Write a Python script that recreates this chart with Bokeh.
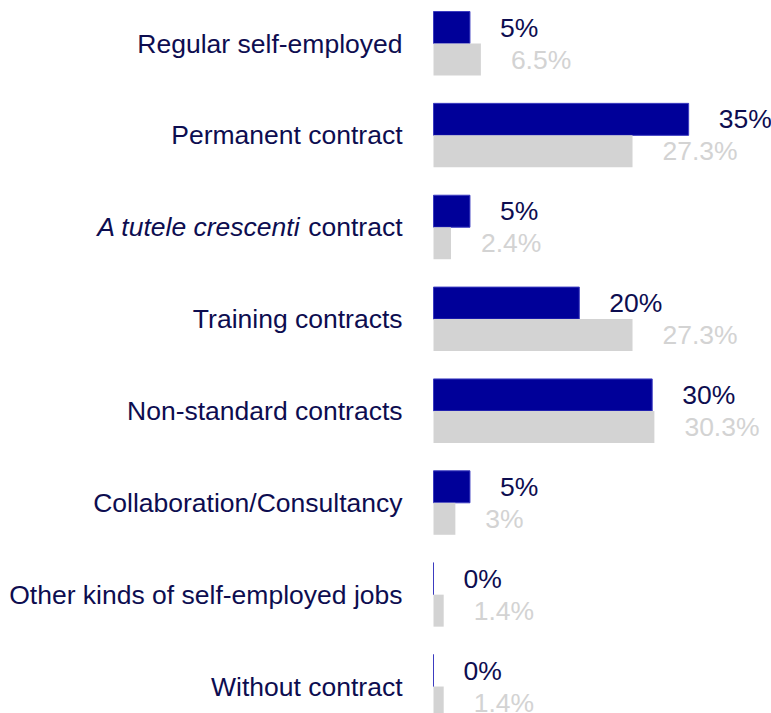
from bokeh.plotting import figure
from bokeh.models import ColumnDataSource, Range1d
from bokeh.transform import dodge
from bokeh.core.properties import value
from bokeh.embed import file_html
from bokeh.resources import INLINE

categories = [
    "Regular self-employed",
    "Permanent contract",
    "A tutele crescenti contract",
    "Training contracts",
    "Non-standard contracts",
    "Collaboration/Consultancy",
    "Other kinds of self-employed jobs",
    "Without contract",
]
italic_prefix = "A tutele crescenti"
series_a = [5, 35, 5, 20, 30, 5, 0, 0]
series_b = [6.5, 27.3, 2.4, 27.3, 30.3, 3, 1.4, 1.4]

BLUE = "#000099"
BLUE_EDGE = "#3c3cc0"
GREY = "#d3d3d3"
NAVY = "#0d0d50"
FONT = "Liberation Sans"
FS = "26.5px"

PX_PER_UNIT_X = 7.29
PITCH = 91.86
W, H = 771, 713
X0 = 433   # px of the zero line inside the canvas
Y0 = 43    # px of the first category centre from the top

ypos = [-i for i in range(len(categories))]
main_text = []
ital_text = []
for c in categories:
    if c.startswith(italic_prefix):
        ital_text.append(italic_prefix)
        main_text.append(c[len(italic_prefix):].strip())
    else:
        ital_text.append("")
        main_text.append(c)

src = ColumnDataSource(dict(
    y=ypos, a=series_a, b=series_b,
    la=[f"{v:g}%" for v in series_a],
    lb=[f"{v:g}%" for v in series_b],
    main=main_text, ital=ital_text, zero=[0] * len(categories),
))

p = figure(
    width=W, height=H, output_backend="svg", toolbar_location=None,
    x_range=Range1d(-X0 / PX_PER_UNIT_X, (W - X0) / PX_PER_UNIT_X),
    y_range=Range1d(Y0 / PITCH - H / PITCH, Y0 / PITCH),
    min_border=0, min_border_left=0, min_border_right=0,
    min_border_top=0, min_border_bottom=0,
)
p.axis.visible = False
p.grid.visible = False
p.outline_line_color = None
p.background_fill_color = "white"
p.border_fill_color = "white"

bh = 32 / PITCH
off = 16 / PITCH

p.hbar(y=dodge("y", off, range=p.y_range), left=0, right="a", height=bh,
       source=src, fill_color=BLUE, line_color=BLUE_EDGE, line_width=1)
p.hbar(y=dodge("y", -off, range=p.y_range), left=0, right="b", height=bh,
       source=src, fill_color=GREY, line_color=None)

p.text(x="a", y=dodge("y", off, range=p.y_range), text="la", source=src,
       x_offset=30, text_baseline="middle", text_align="left",
       text_font=value(FONT), text_font_size=FS, text_color=NAVY)
p.text(x="b", y=dodge("y", -off, range=p.y_range), text="lb", source=src,
       x_offset=30, text_baseline="middle", text_align="left",
       text_font=value(FONT), text_font_size=FS, text_color=GREY)

p.text(x="zero", y="y", text="main", source=src,
       x_offset=-31, text_baseline="middle", text_align="right",
       text_font=value(FONT), text_font_size=FS, text_color=NAVY)
p.text(x="zero", y="y", text="ital", source=src,
       x_offset=-133, text_baseline="middle", text_align="right",
       text_font=value(FONT), text_font_size=FS, text_color=NAVY,
       text_font_style="italic")

open("out.html", "w").write(file_html(p, INLINE))
